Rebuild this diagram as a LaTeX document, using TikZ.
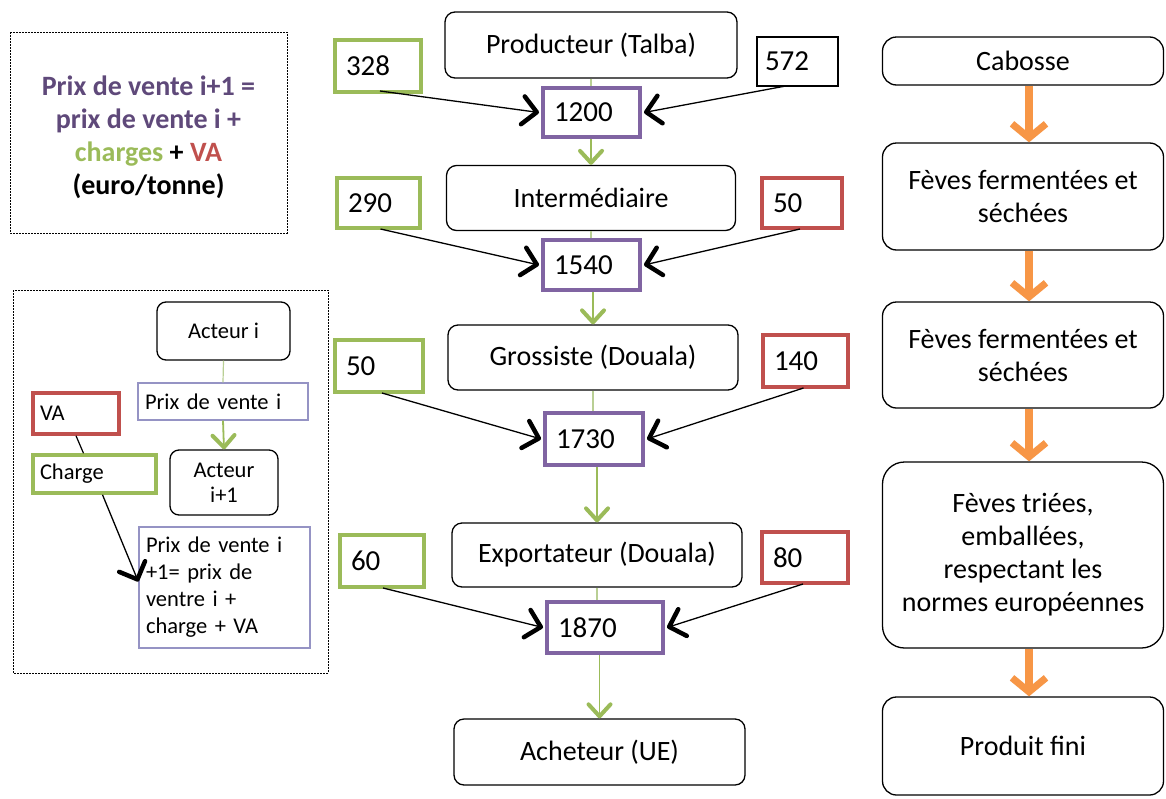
\documentclass[tikz,border=0pt]{standalone}
\usepackage{fontspec}
\setmainfont{Carlito}
\usetikzlibrary{arrows.meta}

\definecolor{vgreen}{HTML}{9BBB59}
\definecolor{vred}{HTML}{C0504D}
\definecolor{vpurple}{HTML}{8064A2}
\definecolor{vorange}{HTML}{F79646}
\definecolor{formula}{HTML}{5F497A}
\definecolor{pale}{HTML}{9593C4}
\definecolor{linkgreen}{HTML}{B9CF94}

\tikzset{
  bigfont/.style={font=\fontsize{28}{33}\selectfont},
  numfont/.style={font=\fontsize{29}{34}\selectfont},
  smallfont/.style={font=\fontsize{22.5}{27}\selectfont},
  actor/.style={draw=black, line width=1.3pt, rounded corners=10pt, align=center,
    inner sep=0pt, fill=white, bigfont},
  stage/.style={actor, rounded corners=14pt},
  numbox/.style={line width=4pt, align=left, inner ysep=0pt, inner xsep=11pt, fill=white, numfont},
  price/.style={numbox, draw=vpurple},
  cost/.style={numbox, draw=vgreen},
  margin/.style={numbox, draw=vred},
  plain/.style={numbox, draw=black, line width=1.3pt, inner xsep=8pt},
  link/.style={draw=linkgreen, line width=1.2pt},
  flow/.style={draw=vgreen, line width=1.8pt,
    -{Straight Barb[length=12pt,width=22pt,line width=4pt,round]}},
  feed/.style={draw=black, line width=1.3pt,
    -{Straight Barb[length=14pt,width=28pt,line width=4.5pt,round]}},
  stepflow/.style={draw=vorange, line width=8pt,
    -{Straight Barb[length=14pt,width=34pt,line width=7pt]}},
  note/.style={draw=black, line width=1pt, dash pattern=on 2pt off 1pt},
  lactor/.style={draw=black, line width=1.3pt, rounded corners=9pt, align=center,
    inner sep=0pt, smallfont},
  lbox/.style={line width=3.5pt, align=left, inner ysep=0pt, inner xsep=7pt, smallfont},
  lprice/.style={draw=pale, line width=1.4pt, align=left, inner ysep=0pt, inner xsep=7pt, smallfont},
}

\begin{document}
\begin{tikzpicture}[x=1pt,y=-1pt]
\useasboundingbox[fill=white] (0,0) rectangle (1166,798);

% ---------- formula note ----------
\draw[note] (10,32) rectangle (287,233);
\node[font=\bfseries\fontsize{28}{33}\selectfont, align=center, text=formula] (formula) at (148.5,137)
  {Prix de vente i+1 =\\prix de vente i +\\\textcolor{vgreen}{charges} \textcolor{black}{+} \textcolor{vred}{VA}\\\textcolor{black}{(euro/tonne)}};

% ---------- legend ----------
\draw[note] (13,290) rectangle (328,673);
\node[lactor, minimum width=133pt, minimum height=58pt] (actI) at (223.5,331) {Acteur i};
\node[lprice, text width=156pt, minimum height=37pt] (pvi) at (223,401.5) {Prix de vente i};
\node[lactor, minimum width=108pt, minimum height=65pt, font=\fontsize{22.5}{25}\selectfont] (actI1) at (224,482.5) {Acteur\\i+1};
\node[lbox, draw=vred, text width=72pt, minimum height=41pt] (va) at (76,413.5) {VA};
\node[lbox, draw=vgreen, text width=109pt, minimum height=38pt] (chg) at (94.5,474) {Charge};
\node[lprice, text width=157pt, minimum height=121pt] (pvi1) at (224.5,587.5)
  {Prix de vente i\\+1= prix de\\ventre i +\\charge + VA};

\draw[link] (actI.south) -- (pvi.north);
\draw[flow] (pvi.south) -- (actI1.north);
\draw[black, line width=1.2pt] (va.south) -- ([xshift=-11pt]chg.north);
\draw[feed] ([xshift=8pt]chg.south) -- ([yshift=6pt]pvi1.west);

% ---------- value chain ----------
\node[actor, minimum width=292pt, minimum height=66pt] (prod)  at (591,45)    {Producteur (Talba)};
\node[actor, minimum width=289pt, minimum height=65pt] (inter) at (591,198)   {Intermédiaire};
\node[actor, minimum width=290pt, minimum height=65pt] (gros)  at (593,357.5) {Grossiste (Douala)};
\node[actor, minimum width=290pt, minimum height=64pt] (expo)  at (597,555)   {Exportateur (Douala)};
\node[actor, minimum width=291pt, minimum height=66pt] (ach)   at (599.5,752) {Acheteur (UE)};

\node[price, text width=75pt, minimum height=49pt] (p1200) at (591.5,112.5) {1200};
\node[price, text width=75pt, minimum height=50pt] (p1540) at (591.5,265)   {1540};
\node[price, text width=76pt, minimum height=52pt] (p1730) at (594,439)     {1730};
\node[price, text width=94pt, minimum height=51pt] (p1870) at (605,627.5)   {1870};

\node[cost, text width=64pt, minimum height=52pt] (c328) at (378,66)    {328};
\node[cost, text width=61pt, minimum height=50pt] (c290) at (378.5,203) {290};
\node[cost, text width=66pt, minimum height=52pt] (c50)  at (379,366)   {50};
\node[cost, text width=62pt, minimum height=52pt] (c60)  at (382,561)   {60};

\node[plain,  text width=65pt, minimum height=49pt] (v572) at (797.5,61.5) {572};
\node[margin, text width=58pt, minimum height=50pt] (v50)  at (802,203)    {50};
\node[margin, text width=63pt, minimum height=52pt] (v140) at (805.5,361)  {140};
\node[margin, text width=64pt, minimum height=51pt] (v80)  at (805,557.5)  {80};

% price flow down the chain
\draw[link] (prod.south) -- (prod.south |- p1200.north);
\draw[flow] (p1200.south -| inter.north) -- (inter.north);
\draw[link] (inter.south) -- (inter.south |- p1540.north);
\draw[flow] (p1540.south -| gros.north) -- (gros.north);
\draw[link] (gros.south) -- (gros.south |- p1730.north);
\draw[flow] (p1730.south -| expo.north) -- (expo.north);
\draw[link] (expo.south) -- (expo.south |- p1870.north);
\draw[flow] (p1870.south -| ach.north) -- (ach.north);

% charges and value added feeding each price
\draw[feed] ([xshift=2pt,yshift=3pt]c328.south) -- ([xshift=-2pt]p1200.west);
\draw[feed] ([xshift=-10pt,yshift=1pt]v572.south) -- ([xshift=2pt]p1200.east);
\draw[feed] ([xshift=2pt,yshift=1pt]c290.south) -- ([xshift=-2pt]p1540.west);
\draw[feed] ([xshift=-2pt,yshift=1pt]v50.south) -- ([xshift=2pt]p1540.east);
\draw[feed] ([xshift=3pt,yshift=1pt]c50.south) -- ([xshift=-2pt]p1730.west);
\draw[feed] ([xshift=-2pt,yshift=1pt]v140.south) -- ([xshift=2pt]p1730.east);
\draw[feed] ([xshift=1pt,yshift=1pt]c60.south) -- ([xshift=-2pt]p1870.west);
\draw[feed] ([xshift=-2pt,yshift=1pt]v80.south) -- ([xshift=2pt]p1870.east);

% ---------- product stages ----------
\node[stage, minimum width=281pt, minimum height=48pt]  (cab)  at (1023,61)    {Cabosse};
\node[stage, minimum width=281pt, minimum height=107pt] (f1)   at (1023,196.5) {Fèves fermentées et\\séchées};
\node[stage, minimum width=281pt, minimum height=106pt] (f2)   at (1023,355)   {Fèves fermentées et\\séchées};
\node[stage, minimum width=281pt, minimum height=186pt, rounded corners=22pt] (tri) at (1023,555)
  {Fèves triées,\\emballées,\\respectant les\\normes européennes};
\node[stage, minimum width=281pt, minimum height=98pt]  (fini) at (1023,746)   {Produit fini};

\draw[stepflow] ([xshift=6pt]cab.south) -- ([xshift=6pt]f1.north);
\draw[stepflow] ([xshift=6pt]f1.south)  -- ([xshift=6pt]f2.north);
\draw[stepflow] ([xshift=6pt]f2.south)  -- ([xshift=6pt]tri.north);
\draw[stepflow] ([xshift=6pt]tri.south) -- ([xshift=6pt]fini.north);
\end{tikzpicture}
\end{document}
